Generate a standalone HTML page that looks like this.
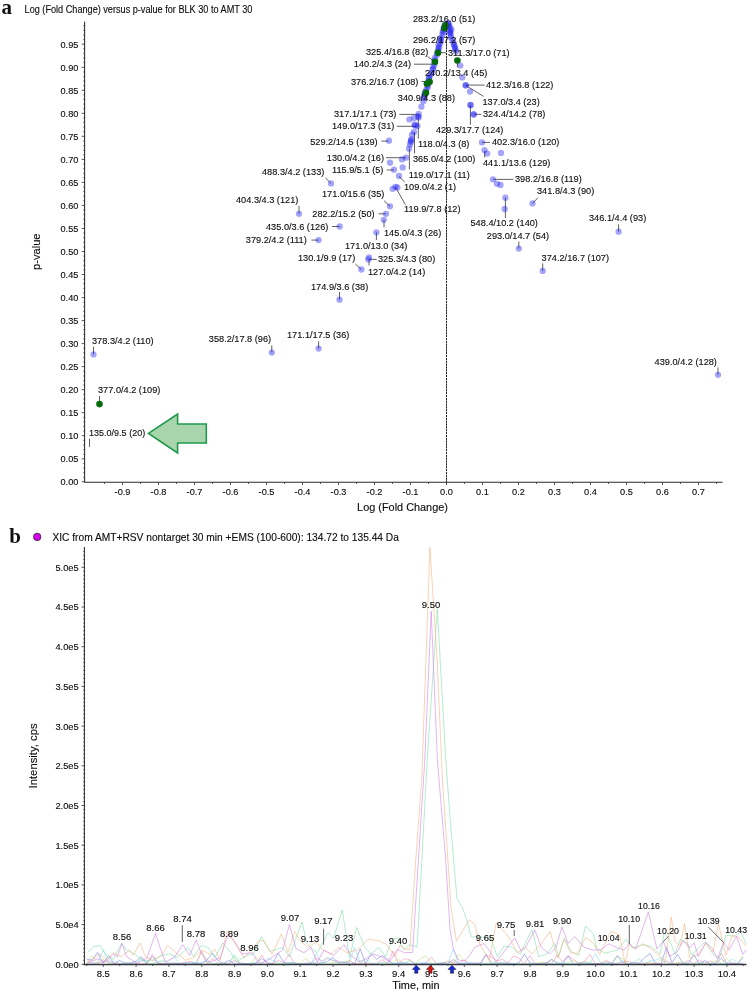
<!DOCTYPE html>
<html lang="en"><head><meta charset="utf-8"><title>Volcano plot and XIC</title>
<style>
html,body{margin:0;padding:0;background:#fff;}
body{width:749px;height:992px;overflow:hidden;font-family:"Liberation Sans",Arial,sans-serif;}
svg{display:block}
text{font-family:"Liberation Sans",Arial,sans-serif;fill:#0c0c0c;stroke:#0c0c0c;stroke-width:.12px}
.t{font-size:9.2px}
.tk{font-size:9.2px}
.b{font-size:9.5px}
.pl{font-family:"Liberation Serif","Times New Roman",serif;font-weight:bold;font-size:21px;fill:#111;stroke:none}
.ax{stroke:#2a2a2a;fill:none}
.ld{stroke:#505050;stroke-width:.9;fill:none}
.p{fill:#1616f0;fill-opacity:.39}
.g{fill:#056a0c}
</style></head><body>
<svg width="749" height="992" viewBox="0 0 749 992">
<rect width="749" height="992" fill="#fff"/>
<g id="volcano">
<text class="pl" x="1.5" y="13.7">a</text>
<text x="24.6" y="12.9" textLength="227.8" lengthAdjust="spacingAndGlyphs" style="font-size:10px">Log (Fold Change) versus p-value for BLK 30 to AMT 30</text>
<path class="ax" stroke-width="1.05" d="M84.6 21.7V482.3H722.5"/>
<text class="tk" x="78.4" y="485.1" text-anchor="end">0.00</text>
<text class="tk" x="78.4" y="462.1" text-anchor="end">0.05</text>
<text class="tk" x="78.4" y="439.0" text-anchor="end">0.10</text>
<text class="tk" x="78.4" y="416.0" text-anchor="end">0.15</text>
<text class="tk" x="78.4" y="393.0" text-anchor="end">0.20</text>
<text class="tk" x="78.4" y="369.9" text-anchor="end">0.25</text>
<text class="tk" x="78.4" y="346.9" text-anchor="end">0.30</text>
<text class="tk" x="78.4" y="323.9" text-anchor="end">0.35</text>
<text class="tk" x="78.4" y="300.9" text-anchor="end">0.40</text>
<text class="tk" x="78.4" y="277.8" text-anchor="end">0.45</text>
<text class="tk" x="78.4" y="254.8" text-anchor="end">0.50</text>
<text class="tk" x="78.4" y="231.8" text-anchor="end">0.55</text>
<text class="tk" x="78.4" y="208.7" text-anchor="end">0.60</text>
<text class="tk" x="78.4" y="185.7" text-anchor="end">0.65</text>
<text class="tk" x="78.4" y="162.7" text-anchor="end">0.70</text>
<text class="tk" x="78.4" y="139.6" text-anchor="end">0.75</text>
<text class="tk" x="78.4" y="116.6" text-anchor="end">0.80</text>
<text class="tk" x="78.4" y="93.6" text-anchor="end">0.85</text>
<text class="tk" x="78.4" y="70.6" text-anchor="end">0.90</text>
<text class="tk" x="78.4" y="47.5" text-anchor="end">0.95</text>
<path class="ax" stroke-width="0.8" d="M81.8 481.8H84.6M81.8 458.8H84.6M81.8 435.7H84.6M81.8 412.7H84.6M81.8 389.7H84.6M81.8 366.6H84.6M81.8 343.6H84.6M81.8 320.6H84.6M81.8 297.6H84.6M81.8 274.5H84.6M81.8 251.5H84.6M81.8 228.5H84.6M81.8 205.4H84.6M81.8 182.4H84.6M81.8 159.4H84.6M81.8 136.3H84.6M81.8 113.3H84.6M81.8 90.3H84.6M81.8 67.3H84.6M81.8 44.2H84.6M83.3 477.2H84.6M83.3 472.6H84.6M83.3 468.0H84.6M83.3 463.4H84.6M83.3 454.2H84.6M83.3 449.6H84.6M83.3 445.0H84.6M83.3 440.3H84.6M83.3 431.1H84.6M83.3 426.5H84.6M83.3 421.9H84.6M83.3 417.3H84.6M83.3 408.1H84.6M83.3 403.5H84.6M83.3 398.9H84.6M83.3 394.3H84.6M83.3 385.1H84.6M83.3 380.5H84.6M83.3 375.9H84.6M83.3 371.3H84.6M83.3 362.0H84.6M83.3 357.4H84.6M83.3 352.8H84.6M83.3 348.2H84.6M83.3 339.0H84.6M83.3 334.4H84.6M83.3 329.8H84.6M83.3 325.2H84.6M83.3 316.0H84.6M83.3 311.4H84.6M83.3 306.8H84.6M83.3 302.2H84.6M83.3 293.0H84.6M83.3 288.3H84.6M83.3 283.7H84.6M83.3 279.1H84.6M83.3 269.9H84.6M83.3 265.3H84.6M83.3 260.7H84.6M83.3 256.1H84.6M83.3 246.9H84.6M83.3 242.3H84.6M83.3 237.7H84.6M83.3 233.1H84.6M83.3 223.9H84.6M83.3 219.3H84.6M83.3 214.7H84.6M83.3 210.0H84.6M83.3 200.8H84.6M83.3 196.2H84.6M83.3 191.6H84.6M83.3 187.0H84.6M83.3 177.8H84.6M83.3 173.2H84.6M83.3 168.6H84.6M83.3 164.0H84.6M83.3 154.8H84.6M83.3 150.2H84.6M83.3 145.6H84.6M83.3 141.0H84.6M83.3 131.7H84.6M83.3 127.1H84.6M83.3 122.5H84.6M83.3 117.9H84.6M83.3 108.7H84.6M83.3 104.1H84.6M83.3 99.5H84.6M83.3 94.9H84.6M83.3 85.7H84.6M83.3 81.1H84.6M83.3 76.5H84.6M83.3 71.9H84.6M83.3 62.7H84.6M83.3 58.0H84.6M83.3 53.4H84.6M83.3 48.8H84.6M83.3 39.6H84.6M83.3 35.0H84.6M83.3 30.4H84.6M83.3 25.8H84.6"/>
<text class="tk" x="122.5" y="494.6" text-anchor="middle">-0.9</text>
<text class="tk" x="158.5" y="494.6" text-anchor="middle">-0.8</text>
<text class="tk" x="194.5" y="494.6" text-anchor="middle">-0.7</text>
<text class="tk" x="230.5" y="494.6" text-anchor="middle">-0.6</text>
<text class="tk" x="266.5" y="494.6" text-anchor="middle">-0.5</text>
<text class="tk" x="302.5" y="494.6" text-anchor="middle">-0.4</text>
<text class="tk" x="338.5" y="494.6" text-anchor="middle">-0.3</text>
<text class="tk" x="374.5" y="494.6" text-anchor="middle">-0.2</text>
<text class="tk" x="410.5" y="494.6" text-anchor="middle">-0.1</text>
<text class="tk" x="446.5" y="494.6" text-anchor="middle">0.0</text>
<text class="tk" x="482.5" y="494.6" text-anchor="middle">0.1</text>
<text class="tk" x="518.5" y="494.6" text-anchor="middle">0.2</text>
<text class="tk" x="554.5" y="494.6" text-anchor="middle">0.3</text>
<text class="tk" x="590.5" y="494.6" text-anchor="middle">0.4</text>
<text class="tk" x="626.5" y="494.6" text-anchor="middle">0.5</text>
<text class="tk" x="662.5" y="494.6" text-anchor="middle">0.6</text>
<text class="tk" x="698.5" y="494.6" text-anchor="middle">0.7</text>
<path class="ax" stroke-width="0.8" d="M122.5 482.3V485.0M158.5 482.3V485.0M194.5 482.3V485.0M230.5 482.3V485.0M266.5 482.3V485.0M302.5 482.3V485.0M338.5 482.3V485.0M374.5 482.3V485.0M410.5 482.3V485.0M446.5 482.3V485.0M482.5 482.3V485.0M518.5 482.3V485.0M554.5 482.3V485.0M590.5 482.3V485.0M626.5 482.3V485.0M662.5 482.3V485.0M698.5 482.3V485.0M104.5 482.3V484.0M140.5 482.3V484.0M176.5 482.3V484.0M212.5 482.3V484.0M248.5 482.3V484.0M284.5 482.3V484.0M320.5 482.3V484.0M356.5 482.3V484.0M392.5 482.3V484.0M428.5 482.3V484.0M464.5 482.3V484.0M500.5 482.3V484.0M536.5 482.3V484.0M572.5 482.3V484.0M608.5 482.3V484.0M644.5 482.3V484.0M680.5 482.3V484.0M716.5 482.3V484.0"/>
<text x="402.5" y="510.8" text-anchor="middle" style="font-size:10.9px">Log (Fold Change)</text>
<text transform="translate(40,251.7) rotate(-90)" text-anchor="middle" style="font-size:11.1px">p-value</text>
<path d="M446.5 21.7V481.8" stroke="#222" stroke-width="1" stroke-dasharray="1.9 0.95" fill="none"/>
<path class="ld" d="M399.4 114.4L418.7 114.4M396.7 126.3L416.7 126.3M418.3 116L418.3 138.7M414.5 132L414.5 153.4M409.4 148.7L409.4 169.4M381.4 141.1L388.7 141.1M386 157.7L406 157.7M386.7 170L394 170M399 176.4L404.7 182M395.4 187L405.4 204.7M384 200.7L390 206.3M378.5 213.8L386 213.8M384 219.8L384 227.4M376.4 232.3L376.4 240M369 259.4L376.7 259.4M369 259.4L369 265.4M355.4 264L361.4 269.5M325.4 177.8L331 183.4M299 206L299 213.8M332 226.5L339.7 226.5M311.4 240.1L318.7 240.1M457.4 60.7L457.4 67.3M465.6 85.1L484.7 85.1M465.6 85.4L483.4 96.3M470.4 105L470.4 124.8M473.8 114.3L481.4 114.3M482 142.4L490 142.4M484.7 150.8L484.7 157.5M532.5 203.4L538 197.7M493 179.4L513.4 179.4M505.4 197.7L505.4 218.1M618.6 224.3L618.6 231.7M518.8 241.6L518.8 248.6M542.7 263.4L542.7 270.9M718 367.4L718 374.8M93.5 346.7L93.5 354.4M99.5 396L99.5 404M89.5 438.5L89.5 446.9M339.5 292L339.5 299.7M271.8 345.4L271.8 352.6M318.6 341.3L318.6 348.6M445.3 22L445.3 30M438 52.7L446 52.7M427.5 56.5L435 61.8M414 64.2L433 64.2M429.6 78L429.6 86M421.5 81.5L428 81.5M426 92.8L426 100"/>
<circle class="p" cx="445.3" cy="23.7" r="3.15"/><circle class="p" cx="444.2" cy="26.3" r="3.15"/><circle class="p" cx="443.6" cy="28.1" r="3.15"/><circle class="p" cx="443.9" cy="29.1" r="3.15"/><circle class="p" cx="443.4" cy="31.2" r="3.15"/><circle class="p" cx="442.6" cy="32.5" r="3.15"/><circle class="p" cx="442.5" cy="35.0" r="3.15"/><circle class="p" cx="440.7" cy="38.2" r="3.15"/><circle class="p" cx="440.4" cy="39.2" r="3.15"/><circle class="p" cx="441.1" cy="41.1" r="3.15"/><circle class="p" cx="440.1" cy="43.4" r="3.15"/><circle class="p" cx="438.5" cy="45.2" r="3.15"/><circle class="p" cx="439.1" cy="47.2" r="3.15"/><circle class="p" cx="438.4" cy="49.0" r="3.15"/><circle class="p" cx="438.3" cy="51.0" r="3.15"/><circle class="p" cx="437.4" cy="52.5" r="3.15"/><circle class="p" cx="436.9" cy="54.9" r="3.15"/><circle class="p" cx="435.0" cy="57.8" r="3.15"/><circle class="p" cx="434.4" cy="60.3" r="3.15"/><circle class="p" cx="434.9" cy="61.9" r="3.15"/><circle class="p" cx="434.7" cy="63.6" r="3.15"/><circle class="p" cx="433.5" cy="66.2" r="3.15"/><circle class="p" cx="433.3" cy="68.6" r="3.15"/><circle class="p" cx="432.4" cy="69.7" r="3.15"/><circle class="p" cx="431.7" cy="73.0" r="3.15"/><circle class="p" cx="430.3" cy="74.9" r="3.15"/><circle class="p" cx="429.2" cy="77.3" r="3.15"/><circle class="p" cx="428.9" cy="78.5" r="3.15"/><circle class="p" cx="428.2" cy="81.1" r="3.15"/><circle class="p" cx="429.0" cy="82.8" r="3.15"/><circle class="p" cx="427.8" cy="85.6" r="3.15"/><circle class="p" cx="427.6" cy="87.5" r="3.15"/><circle class="p" cx="426.2" cy="90.0" r="3.15"/><circle class="p" cx="425.0" cy="92.1" r="3.15"/><circle class="p" cx="424.7" cy="94.0" r="3.15"/><circle class="p" cx="424.1" cy="95.7" r="3.15"/><circle class="p" cx="423.7" cy="98.2" r="3.15"/><circle class="p" cx="448.0" cy="24.0" r="3.15"/><circle class="p" cx="449.0" cy="25.5" r="3.15"/><circle class="p" cx="450.0" cy="27.4" r="3.15"/><circle class="p" cx="451.4" cy="29.4" r="3.15"/><circle class="p" cx="447.5" cy="26.0" r="3.15"/><circle class="p" cx="449.5" cy="30.5" r="3.15"/><circle class="p" cx="448.5" cy="23.0" r="3.15"/><circle class="p" cx="450.5" cy="32.0" r="3.15"/><circle class="p" cx="450.0" cy="33.0" r="3.15"/><circle class="p" cx="450.7" cy="35.1" r="3.15"/><circle class="p" cx="451.0" cy="37.4" r="3.15"/><circle class="p" cx="452.5" cy="40.0" r="3.15"/><circle class="p" cx="453.5" cy="42.6" r="3.15"/><circle class="p" cx="453.9" cy="44.5" r="3.15"/><circle class="p" cx="454.6" cy="46.2" r="3.15"/><circle class="p" cx="454.8" cy="47.7" r="3.15"/><circle class="p" cx="455.5" cy="49.5" r="3.15"/><circle class="p" cx="456.1" cy="51.4" r="3.15"/><circle class="p" cx="460.3" cy="65.6" r="3.15"/><circle class="p" cx="462.3" cy="77.4" r="3.15"/><circle class="p" cx="465.6" cy="85.4" r="3.15"/><circle class="p" cx="465.8" cy="85.2" r="3.15"/><circle class="p" cx="470.0" cy="91.6" r="3.15"/><circle class="p" cx="470.4" cy="105.0" r="3.15"/><circle class="p" cx="470.6" cy="105.2" r="3.15"/><circle class="p" cx="473.8" cy="114.3" r="3.15"/><circle class="p" cx="473.6" cy="114.5" r="3.15"/><circle class="p" cx="482.0" cy="142.4" r="3.15"/><circle class="p" cx="484.5" cy="150.1" r="3.15"/><circle class="p" cx="487.2" cy="153.6" r="3.15"/><circle class="p" cx="501.0" cy="152.9" r="3.15"/><circle class="p" cx="493.0" cy="179.4" r="3.15"/><circle class="p" cx="497.0" cy="183.8" r="3.15"/><circle class="p" cx="500.5" cy="185.0" r="3.15"/><circle class="p" cx="505.4" cy="197.7" r="3.15"/><circle class="p" cx="504.7" cy="209.0" r="3.15"/><circle class="p" cx="532.5" cy="203.4" r="3.15"/><circle class="p" cx="618.6" cy="231.7" r="3.15"/><circle class="p" cx="518.8" cy="248.6" r="3.15"/><circle class="p" cx="542.7" cy="270.9" r="3.15"/><circle class="p" cx="718.0" cy="374.8" r="3.15"/><circle class="p" cx="423.4" cy="101.3" r="3.15"/><circle class="p" cx="421.4" cy="106.7" r="3.15"/><circle class="p" cx="418.7" cy="114.0" r="3.15"/><circle class="p" cx="418.7" cy="117.4" r="3.15"/><circle class="p" cx="418.2" cy="116.5" r="3.15"/><circle class="p" cx="414.0" cy="118.0" r="3.15"/><circle class="p" cx="409.4" cy="119.4" r="3.15"/><circle class="p" cx="414.7" cy="124.7" r="3.15"/><circle class="p" cx="417.4" cy="126.0" r="3.15"/><circle class="p" cx="415.0" cy="125.5" r="3.15"/><circle class="p" cx="414.0" cy="132.0" r="3.15"/><circle class="p" cx="412.0" cy="134.7" r="3.15"/><circle class="p" cx="411.4" cy="139.4" r="3.15"/><circle class="p" cx="410.7" cy="142.0" r="3.15"/><circle class="p" cx="411.0" cy="140.5" r="3.15"/><circle class="p" cx="410.0" cy="144.7" r="3.15"/><circle class="p" cx="409.0" cy="148.7" r="3.15"/><circle class="p" cx="389.0" cy="140.7" r="3.15"/><circle class="p" cx="406.0" cy="157.7" r="3.15"/><circle class="p" cx="402.0" cy="159.4" r="3.15"/><circle class="p" cx="390.0" cy="162.7" r="3.15"/><circle class="p" cx="402.7" cy="167.4" r="3.15"/><circle class="p" cx="394.0" cy="169.7" r="3.15"/><circle class="p" cx="399.0" cy="176.0" r="3.15"/><circle class="p" cx="395.4" cy="186.8" r="3.15"/><circle class="p" cx="392.7" cy="188.8" r="3.15"/><circle class="p" cx="397.4" cy="187.4" r="3.15"/><circle class="p" cx="390.0" cy="206.3" r="3.15"/><circle class="p" cx="386.0" cy="213.8" r="3.15"/><circle class="p" cx="383.8" cy="219.8" r="3.15"/><circle class="p" cx="376.4" cy="232.3" r="3.15"/><circle class="p" cx="369.0" cy="257.4" r="3.15"/><circle class="p" cx="368.3" cy="259.4" r="3.15"/><circle class="p" cx="361.4" cy="269.5" r="3.15"/><circle class="p" cx="331.0" cy="183.4" r="3.15"/><circle class="p" cx="299.0" cy="213.8" r="3.15"/><circle class="p" cx="339.7" cy="226.5" r="3.15"/><circle class="p" cx="318.6" cy="240.1" r="3.15"/><circle class="p" cx="339.5" cy="299.7" r="3.15"/><circle class="p" cx="271.8" cy="352.6" r="3.15"/><circle class="p" cx="318.6" cy="348.6" r="3.15"/><circle class="p" cx="93.5" cy="354.4" r="3.15"/>
<circle class="g" cx="445.4" cy="25.4" r="3.3"/><circle class="g" cx="444.5" cy="28.2" r="3.3"/><circle class="g" cx="438.0" cy="52.7" r="3.3"/><circle class="g" cx="435.0" cy="61.8" r="3.3"/><circle class="g" cx="429.6" cy="81.7" r="3.3"/><circle class="g" cx="426.9" cy="83.8" r="3.3"/><circle class="g" cx="426.0" cy="92.8" r="3.3"/><circle class="g" cx="457.4" cy="60.5" r="3.3"/><circle class="g" cx="99.5" cy="404.1" r="3.3"/>
<path d="M446.5 21.7V481.8" stroke="#222" stroke-width="1" stroke-dasharray="1.9 0.95" fill="none"/>
<text class="t" x="413" y="22.3">283.2/16.0 (51)</text>
<text class="t" x="413" y="43.3">296.2/17.2 (57)</text>
<text class="t" x="366" y="55.3">325.4/16.8 (82)</text>
<text class="t" x="448" y="55.6">311.3/17.0 (71)</text>
<text class="t" x="353.8" y="67.3">140.2/4.3 (24)</text>
<text class="t" x="425" y="76.3">240.2/13.4 (45)</text>
<text class="t" x="351" y="84.9">376.2/16.7 (108)</text>
<text class="t" x="486" y="88.3">412.3/16.8 (122)</text>
<text class="t" x="397.8" y="101.3">340.9/4.3 (88)</text>
<text class="t" x="482.5" y="104.6">137.0/3.4 (23)</text>
<text class="t" x="334" y="117.3">317.1/17.1 (73)</text>
<text class="t" x="483" y="117.3">324.4/14.2 (78)</text>
<text class="t" x="332" y="129.3">149.0/17.3 (31)</text>
<text class="t" x="436" y="133.3">429.3/17.7 (124)</text>
<text class="t" x="310.2" y="144.5">529.2/14.5 (139)</text>
<text class="t" x="418" y="146.8">118.0/4.3 (8)</text>
<text class="t" x="492" y="145.3">402.3/16.0 (120)</text>
<text class="t" x="326.8" y="161.3">130.0/4.2 (16)</text>
<text class="t" x="413" y="161.8">365.0/4.2 (100)</text>
<text class="t" x="483" y="166.3">441.1/13.6 (129)</text>
<text class="t" x="262" y="175.3">488.3/4.2 (133)</text>
<text class="t" x="332" y="173.3">115.9/5.1 (5)</text>
<text class="t" x="408.8" y="178.3">119.0/17.1 (11)</text>
<text class="t" x="515" y="182.3">398.2/16.8 (119)</text>
<text class="t" x="404" y="190.3">109.0/4.2 (1)</text>
<text class="t" x="322" y="197.3">171.0/15.6 (35)</text>
<text class="t" x="537" y="194.3">341.8/4.3 (90)</text>
<text class="t" x="236" y="203.3">404.3/4.3 (121)</text>
<text class="t" x="404" y="212.3">119.9/7.8 (12)</text>
<text class="t" x="312.3" y="216.9">282.2/15.2 (50)</text>
<text class="t" x="589" y="221.3">346.1/4.4 (93)</text>
<text class="t" x="266" y="229.5">435.0/3.6 (126)</text>
<text class="t" x="470.5" y="226.3">548.4/10.2 (140)</text>
<text class="t" x="384" y="236.3">145.0/4.3 (26)</text>
<text class="t" x="486.8" y="239.3">293.0/14.7 (54)</text>
<text class="t" x="245.8" y="243.3">379.2/4.2 (111)</text>
<text class="t" x="345" y="249.3">171.0/13.0 (34)</text>
<text class="t" x="298" y="261.3">130.1/9.9 (17)</text>
<text class="t" x="378" y="262.3">325.3/4.3 (80)</text>
<text class="t" x="541.6" y="261.3">374.2/16.7 (107)</text>
<text class="t" x="368" y="274.5">127.0/4.2 (14)</text>
<text class="t" x="311" y="290.3">174.9/3.6 (38)</text>
<text class="t" x="92" y="344.3">378.3/4.2 (110)</text>
<text class="t" x="208.8" y="342.3">358.2/17.8 (96)</text>
<text class="t" x="287" y="338.3">171.1/17.5 (36)</text>
<text class="t" x="654.6" y="365.3">439.0/4.2 (128)</text>
<text class="t" x="98" y="393.3">377.0/4.2 (109)</text>
<text class="t" x="89" y="436.3" textLength="56.2" lengthAdjust="spacingAndGlyphs">135.0/9.5 (20)</text>
<path d="M148.5 433.4L177.6 414V424H206.3V443H177.6V453Z" fill="#a9d5ad" stroke="#1f9a4c" stroke-width="1.6" stroke-linejoin="miter"/>
</g>
<g id="xic">
<text class="pl" x="9.2" y="542.9">b</text>
<circle cx="37.2" cy="536.9" r="3.7" fill="#d800f0" stroke="#3a2a3a" stroke-width="0.9"/>
<text x="52.4" y="541.2" textLength="346.5" lengthAdjust="spacingAndGlyphs" style="font-size:10.1px">XIC from AMT+RSV nontarget 30 min +EMS (100-600): 134.72 to 135.44 Da</text>
<path d="M86.7 963.2L92.2 955.9L97.6 963.4L103.1 959.3L108.6 963.5L114.0 963.9L119.5 963.7L125.0 963.1L130.5 963.6L135.9 963.8L141.4 958.6L146.9 963.1L152.3 963.2L157.8 963.5L163.3 959.7L168.8 963.4L174.2 963.1L179.7 963.9L185.2 963.3L190.6 963.2L196.1 963.3L201.6 951.4L207.0 962.6L212.5 963.4L218.0 963.6L223.4 963.2L228.9 963.3L234.4 956.2L239.9 963.5L245.3 963.4L250.8 963.9L256.3 956.9L261.7 963.9L267.2 963.8L272.7 963.8L278.2 963.4L283.6 963.6L289.1 963.5L294.6 962.5L300.0 963.5L305.5 958.3L311.0 963.4L316.4 963.9L321.9 964.0L327.4 963.8L332.9 962.4L338.3 963.2L343.8 962.4L349.3 960.3L354.7 964.1L360.2 960.5L365.7 963.1L371.1 964.1L376.6 964.1L382.1 962.3L387.6 963.9L393.0 962.3L398.5 959.5L404.0 963.9L409.4 960.2L414.9 964.0L420.4 958.4L425.8 956.0L431.3 963.2L436.8 963.2L442.3 963.6L447.7 961.4L453.2 963.8L458.7 954.5L464.1 960.8L469.6 963.7L475.1 964.0L480.5 963.8L486.0 963.7L491.5 961.5L497.0 963.1L502.4 962.9L507.9 963.6L513.4 963.2L518.8 963.9L524.3 963.8L529.8 963.5L535.2 963.4L540.7 962.2L546.2 963.6L551.7 959.1L557.1 963.0L562.6 963.9L568.1 962.6L573.5 960.8L579.0 963.6L584.5 961.9L589.9 963.1L595.4 963.7L600.9 963.5L606.4 961.4L611.8 963.6L617.3 956.6L622.8 959.1L628.2 963.2L633.7 963.8L639.2 963.7L644.6 963.2L650.1 962.0L655.6 963.4L661.1 959.2L666.5 963.9L672.0 964.0L677.5 962.6L682.9 962.3L688.4 963.9L693.9 963.7L699.3 963.3L704.8 964.0L710.3 963.3L715.8 959.9L721.2 963.4L726.7 958.3L732.2 963.3L737.6 963.6L743.1 955.5" fill="none" stroke="#b9e66e" stroke-width="0.55" stroke-linejoin="round"/>
<path d="M86.7 959.5L92.2 963.5L97.6 962.8L103.1 962.1L108.6 960.8L114.0 963.6L119.5 963.6L125.0 963.9L130.5 963.2L135.9 963.4L141.4 964.0L146.9 963.5L152.3 954.3L157.8 963.4L163.3 963.4L168.8 963.7L174.2 963.7L179.7 963.2L185.2 962.2L190.6 961.4L196.1 963.5L201.6 951.4L207.0 963.7L212.5 958.4L218.0 963.4L223.4 963.2L228.9 963.4L234.4 960.7L239.9 963.1L245.3 963.5L250.8 963.9L256.3 963.5L261.7 955.1L267.2 964.0L272.7 963.7L278.2 960.3L283.6 962.9L289.1 954.0L294.6 964.1L300.0 963.8L305.5 963.1L311.0 963.1L316.4 958.1L321.9 961.0L327.4 958.4L332.9 960.3L338.3 961.2L343.8 963.2L349.3 960.9L354.7 963.6L360.2 963.5L365.7 963.5L371.1 963.6L376.6 963.4L382.1 959.7L387.6 963.6L393.0 951.0L398.5 963.5L404.0 958.8L409.4 959.4L414.9 963.6L420.4 963.7L425.8 963.4L431.3 957.1L436.8 963.8L442.3 963.5L447.7 961.3L453.2 962.3L458.7 963.8L464.1 959.7L469.6 964.1L475.1 963.4L480.5 962.6L486.0 955.2L491.5 957.0L497.0 961.0L502.4 959.3L507.9 963.2L513.4 955.9L518.8 958.0L524.3 963.9L529.8 955.7L535.2 963.9L540.7 963.3L546.2 962.5L551.7 963.3L557.1 955.2L562.6 961.8L568.1 955.5L573.5 959.6L579.0 963.2L584.5 961.5L589.9 954.5L595.4 963.7L600.9 963.2L606.4 960.5L611.8 963.3L617.3 963.6L622.8 962.2L628.2 961.1L633.7 963.8L639.2 964.1L644.6 963.4L650.1 963.2L655.6 963.5L661.1 964.0L666.5 961.0L672.0 963.6L677.5 963.2L682.9 963.8L688.4 960.4L693.9 963.7L699.3 959.8L704.8 963.3L710.3 961.2L715.8 963.3L721.2 953.2L726.7 963.2L732.2 963.6L737.6 963.7L743.1 963.3" fill="none" stroke="#f285ac" stroke-width="0.55" stroke-linejoin="round"/>
<path d="M86.7 958.9L92.2 960.2L97.6 952.3L103.1 963.1L108.6 955.7L114.0 963.7L119.5 960.6L125.0 963.0L130.5 963.1L135.9 961.3L141.4 956.7L146.9 963.0L152.3 956.6L157.8 963.2L163.3 963.9L168.8 964.0L174.2 963.0L179.7 963.7L185.2 963.4L190.6 963.0L196.1 963.6L201.6 963.5L207.0 960.1L212.5 952.9L218.0 960.4L223.4 963.5L228.9 960.3L234.4 963.8L239.9 963.8L245.3 963.7L250.8 964.0L256.3 962.9L261.7 958.4L267.2 962.6L272.7 963.8L278.2 953.1L283.6 962.2L289.1 962.9L294.6 963.1L300.0 964.1L305.5 963.6L311.0 963.1L316.4 962.9L321.9 963.0L327.4 961.6L332.9 957.5L338.3 962.8L343.8 962.1L349.3 964.0L354.7 963.6L360.2 949.0L365.7 963.8L371.1 953.6L376.6 959.3L382.1 955.6L387.6 959.2L393.0 963.9L398.5 963.1L404.0 962.8L409.4 963.8L414.9 964.1L420.4 963.8L425.8 963.0L431.3 964.1L436.8 963.8L442.3 962.9L447.7 963.9L453.2 959.5L458.7 963.4L464.1 963.6L469.6 963.2L475.1 963.1L480.5 964.0L486.0 954.3L491.5 963.7L497.0 963.1L502.4 963.0L507.9 963.2L513.4 963.8L518.8 962.9L524.3 954.2L529.8 962.8L535.2 964.0L540.7 963.9L546.2 963.2L551.7 959.5L557.1 963.1L562.6 963.8L568.1 956.1L573.5 964.1L579.0 963.9L584.5 963.1L589.9 963.4L595.4 963.8L600.9 963.7L606.4 963.1L611.8 963.4L617.3 955.6L622.8 963.0L628.2 963.9L633.7 962.2L639.2 963.4L644.6 957.7L650.1 953.7L655.6 963.6L661.1 963.7L666.5 947.2L672.0 962.7L677.5 954.3L682.9 963.5L688.4 963.1L693.9 954.8L699.3 963.8L704.8 960.6L710.3 963.9L715.8 963.9L721.2 958.3L726.7 963.7L732.2 962.9L737.6 964.1L743.1 956.9" fill="none" stroke="#6c7be6" stroke-width="0.55" stroke-linejoin="round"/>
<path d="M86.7 963.2L92.2 963.0L97.6 963.0L103.1 950.1L108.6 963.0L114.0 961.0L119.5 963.8L125.0 963.4L130.5 963.1L135.9 963.2L141.4 959.3L146.9 963.9L152.3 963.9L157.8 961.3L163.3 961.1L168.8 963.1L174.2 956.8L179.7 963.9L185.2 963.3L190.6 963.0L196.1 962.3L201.6 962.4L207.0 961.2L212.5 963.7L218.0 963.7L223.4 963.8L228.9 963.5L234.4 954.8L239.9 963.0L245.3 964.1L250.8 963.1L256.3 962.8L261.7 964.1L267.2 958.5L272.7 960.3L278.2 963.0L283.6 963.7L289.1 963.0L294.6 963.2L300.0 964.0L305.5 964.1L311.0 964.0L316.4 953.4L321.9 963.0L327.4 957.4L332.9 960.6L338.3 963.0L343.8 961.9L349.3 962.9L354.7 947.3L360.2 963.6L365.7 958.8L371.1 963.1L376.6 963.6L382.1 962.8L387.6 963.1L393.0 963.3L398.5 963.0L404.0 963.2L409.4 961.0L414.9 963.7L420.4 962.9L425.8 962.9L431.3 963.5L436.8 963.5L442.3 962.7L447.7 963.9L453.2 948.9L458.7 963.5L464.1 963.0L469.6 962.6L475.1 963.7L480.5 963.2L486.0 963.3L491.5 963.7L497.0 963.8L502.4 963.2L507.9 963.7L513.4 963.3L518.8 964.1L524.3 963.8L529.8 963.5L535.2 963.3L540.7 963.7L546.2 963.2L551.7 963.7L557.1 963.1L562.6 962.9L568.1 963.5L573.5 963.9L579.0 963.0L584.5 963.3L589.9 963.2L595.4 953.7L600.9 963.4L606.4 963.6L611.8 963.2L617.3 963.2L622.8 960.6L628.2 963.8L633.7 963.3L639.2 958.6L644.6 963.8L650.1 960.6L655.6 960.2L661.1 957.6L666.5 963.4L672.0 963.8L677.5 964.1L682.9 963.8L688.4 964.0L693.9 963.7L699.3 962.6L704.8 964.0L710.3 963.7L715.8 963.0L721.2 963.6L726.7 963.3L732.2 959.0L737.6 963.0L743.1 963.4" fill="none" stroke="#7fd6ee" stroke-width="0.55" stroke-linejoin="round"/>
<path d="M88.0 952.0L93.4 946.9L100.0 945.5L106.7 955.4L113.4 959.4L121.4 943.4L126.8 950.0L134.8 954.0L142.8 960.8L153.5 960.0L161.5 955.4L169.5 954.0L177.5 957.3L188.2 947.4L193.5 956.8L201.5 945.5L208.2 947.4L214.9 958.0L222.9 942.9L231.0 952.7L236.2 962.0L246.9 955.4L253.4 954.0L261.4 936.7L269.4 951.4L282.7 947.4L289.4 956.8L294.7 942.0L302.0 922.0L306.8 943.4L313.4 950.0L317.4 952.7L328.1 932.7L333.5 938.0L342.3 910.0L349.5 958.0L356.7 927.4L364.2 946.0L370.8 954.0L378.9 947.4L385.5 956.8L392.2 939.4L397.5 938.0L404.2 950.0L409.6 944.7L417.0 947.0L420.4 887.0L427.2 760.0L437.3 608.8L445.8 760.0L450.5 823.5L457.0 898.7L462.7 908.2L467.0 920.9L471.2 936.8L480.0 937.0L490.7 938.0L497.4 956.8L504.0 946.0L512.0 947.4L520.0 954.0L532.0 929.5L538.8 956.8L546.8 954.0L554.8 943.4L558.8 956.8L564.2 938.0L570.8 951.4L578.8 955.4L585.5 926.0L593.5 934.0L596.4 948.0L604.9 953.2L617.6 950.0L626.0 939.4L632.5 948.0L643.0 944.7L651.6 946.9L660.0 954.3L664.3 933.0L668.5 937.3L674.9 954.3L680.2 939.4L687.6 943.7L691.9 955.4L698.3 948.0L705.7 941.6L713.0 954.3L719.5 958.5L725.9 935.2L734.3 936.3L740.7 932.0L746.0 943.7" fill="none" stroke="#79dca6" stroke-width="0.56" stroke-linejoin="round"/>
<path d="M86.7 963.4L100.0 954.0L106.7 960.0L113.4 952.7L121.4 956.8L129.4 950.0L133.4 955.4L140.0 942.9L145.4 956.8L153.5 960.8L161.5 955.4L167.6 945.5L177.5 954.0L185.5 960.0L193.5 958.0L201.5 950.0L209.5 954.0L214.9 949.3L220.2 960.0L226.9 931.4L236.2 943.4L244.2 958.0L252.2 948.7L259.0 940.7L264.0 940.7L272.0 954.0L281.4 934.0L288.0 952.7L294.7 931.4L301.4 942.0L308.0 947.4L316.0 942.0L322.8 950.0L330.8 954.0L338.8 947.4L346.8 952.7L357.5 950.0L368.2 939.4L378.9 940.7L386.9 944.7L394.9 956.8L400.2 945.0L404.0 949.0L409.8 949.5L415.3 866.0L421.8 778.0L429.9 547.4L437.1 660.0L442.5 781.0L446.9 845.0L451.1 908.0L456.4 941.0L469.4 920.0L474.7 924.0L480.0 944.7L489.4 960.8L496.0 923.4L506.8 934.0L517.4 952.7L525.4 947.4L532.0 954.0L541.5 943.4L550.0 931.4L557.5 958.0L564.2 939.4L570.8 952.7L577.5 953.5L585.5 937.5L593.5 943.4L599.6 954.3L611.2 931.0L619.7 935.2L625.0 963.8L629.3 943.7L635.6 949.0L643.0 943.7L651.6 949.0L660.0 956.4L665.4 960.7L671.3 917.1L675.0 941.6L680.2 945.8L684.5 923.5L689.8 958.5L698.3 954.3L705.7 943.7L713.0 952.2L718.4 923.5L725.9 955.4L732.2 935.2L738.6 937.3L746.0 946.0" fill="none" stroke="#f2b07c" stroke-width="0.56" stroke-linejoin="round"/>
<path d="M86.7 963.4L97.4 958.9L105.4 962.0L113.4 954.0L117.4 956.8L122.0 943.4L126.8 956.8L137.4 963.4L146.8 958.0L155.6 933.5L160.0 947.4L165.5 962.0L174.8 956.8L182.8 944.7L189.5 955.4L196.2 940.0L201.5 954.0L209.5 962.0L220.2 958.0L228.2 934.0L233.6 940.7L241.6 954.0L252.2 952.7L258.7 963.4L266.7 960.8L282.7 950.0L289.4 924.7L296.0 948.7L304.0 952.7L310.8 947.4L317.4 962.0L324.0 950.0L333.5 955.4L344.0 944.7L350.8 955.4L360.0 962.0L373.5 954.0L381.5 956.8L389.5 962.0L397.5 949.3L404.2 952.7L412.6 952.5L418.3 861.6L424.8 760.0L431.2 611.4L437.4 760.0L445.8 861.6L450.0 929.3L453.2 948.4L458.5 960.0L464.9 961.0L470.1 954.7L474.7 947.4L484.0 943.4L490.7 952.7L496.0 962.0L505.4 950.0L514.8 938.0L521.4 951.4L525.4 947.4L534.8 930.0L541.5 947.4L549.5 954.0L556.0 947.4L562.0 926.8L568.0 943.4L574.8 936.7L584.2 947.4L592.2 950.0L600.6 950.0L609.0 943.7L617.6 948.0L624.0 950.0L629.3 943.7L635.6 949.0L648.4 911.8L656.9 949.0L663.2 941.6L669.6 956.4L677.0 952.0L683.4 940.5L689.8 948.0L694.0 942.6L698.3 956.4L705.7 942.6L712.0 948.0L717.4 958.5L723.7 942.6L729.0 950.0L736.5 936.3L742.8 954.3L746.0 950.0" fill="none" stroke="#cf7ae4" stroke-width="0.56" stroke-linejoin="round"/>
<path class="ax" stroke-width="1.05" d="M84.4 547V965.1999999999999"/>
<path stroke="#33373d" stroke-width="1.45" fill="none" d="M83.80000000000001 964.5H746.5"/>
<text class="b" style="font-size:9.3px" x="78.7" y="967.7" text-anchor="end">0.0e0</text>
<text class="b" style="font-size:9.3px" x="78.7" y="928.0" text-anchor="end">5.0e4</text>
<text class="b" style="font-size:9.3px" x="78.7" y="888.3" text-anchor="end">1.0e5</text>
<text class="b" style="font-size:9.3px" x="78.7" y="848.6" text-anchor="end">1.5e5</text>
<text class="b" style="font-size:9.3px" x="78.7" y="808.9" text-anchor="end">2.0e5</text>
<text class="b" style="font-size:9.3px" x="78.7" y="769.2" text-anchor="end">2.5e5</text>
<text class="b" style="font-size:9.3px" x="78.7" y="729.5" text-anchor="end">3.0e5</text>
<text class="b" style="font-size:9.3px" x="78.7" y="689.8" text-anchor="end">3.5e5</text>
<text class="b" style="font-size:9.3px" x="78.7" y="650.1" text-anchor="end">4.0e5</text>
<text class="b" style="font-size:9.3px" x="78.7" y="610.4" text-anchor="end">4.5e5</text>
<text class="b" style="font-size:9.3px" x="78.7" y="570.7" text-anchor="end">5.0e5</text>
<path class="ax" stroke-width="0.8" d="M81.60000000000001 964.3H84.4M81.60000000000001 924.6H84.4M81.60000000000001 884.9H84.4M81.60000000000001 845.2H84.4M81.60000000000001 805.5H84.4M81.60000000000001 765.8H84.4M81.60000000000001 726.1H84.4M81.60000000000001 686.4H84.4M81.60000000000001 646.7H84.4M81.60000000000001 607.0H84.4M81.60000000000001 567.3H84.4M83.30000000000001 960.3H84.4M83.30000000000001 956.4H84.4M83.30000000000001 952.4H84.4M83.30000000000001 948.4H84.4M83.30000000000001 944.4H84.4M83.30000000000001 940.5H84.4M83.30000000000001 936.5H84.4M83.30000000000001 932.5H84.4M83.30000000000001 928.6H84.4M83.30000000000001 920.6H84.4M83.30000000000001 916.7H84.4M83.30000000000001 912.7H84.4M83.30000000000001 908.7H84.4M83.30000000000001 904.8H84.4M83.30000000000001 900.8H84.4M83.30000000000001 896.8H84.4M83.30000000000001 892.8H84.4M83.30000000000001 888.9H84.4M83.30000000000001 880.9H84.4M83.30000000000001 877.0H84.4M83.30000000000001 873.0H84.4M83.30000000000001 869.0H84.4M83.30000000000001 865.0H84.4M83.30000000000001 861.1H84.4M83.30000000000001 857.1H84.4M83.30000000000001 853.1H84.4M83.30000000000001 849.2H84.4M83.30000000000001 841.2H84.4M83.30000000000001 837.3H84.4M83.30000000000001 833.3H84.4M83.30000000000001 829.3H84.4M83.30000000000001 825.3H84.4M83.30000000000001 821.4H84.4M83.30000000000001 817.4H84.4M83.30000000000001 813.4H84.4M83.30000000000001 809.5H84.4M83.30000000000001 801.5H84.4M83.30000000000001 797.6H84.4M83.30000000000001 793.6H84.4M83.30000000000001 789.6H84.4M83.30000000000001 785.6H84.4M83.30000000000001 781.7H84.4M83.30000000000001 777.7H84.4M83.30000000000001 773.7H84.4M83.30000000000001 769.8H84.4M83.30000000000001 761.8H84.4M83.30000000000001 757.9H84.4M83.30000000000001 753.9H84.4M83.30000000000001 749.9H84.4M83.30000000000001 745.9H84.4M83.30000000000001 742.0H84.4M83.30000000000001 738.0H84.4M83.30000000000001 734.0H84.4M83.30000000000001 730.1H84.4M83.30000000000001 722.1H84.4M83.30000000000001 718.2H84.4M83.30000000000001 714.2H84.4M83.30000000000001 710.2H84.4M83.30000000000001 706.2H84.4M83.30000000000001 702.3H84.4M83.30000000000001 698.3H84.4M83.30000000000001 694.3H84.4M83.30000000000001 690.4H84.4M83.30000000000001 682.4H84.4M83.30000000000001 678.5H84.4M83.30000000000001 674.5H84.4M83.30000000000001 670.5H84.4M83.30000000000001 666.5H84.4M83.30000000000001 662.6H84.4M83.30000000000001 658.6H84.4M83.30000000000001 654.6H84.4M83.30000000000001 650.7H84.4M83.30000000000001 642.7H84.4M83.30000000000001 638.8H84.4M83.30000000000001 634.8H84.4M83.30000000000001 630.8H84.4M83.30000000000001 626.8H84.4M83.30000000000001 622.9H84.4M83.30000000000001 618.9H84.4M83.30000000000001 614.9H84.4M83.30000000000001 611.0H84.4M83.30000000000001 603.0H84.4M83.30000000000001 599.1H84.4M83.30000000000001 595.1H84.4M83.30000000000001 591.1H84.4M83.30000000000001 587.1H84.4M83.30000000000001 583.2H84.4M83.30000000000001 579.2H84.4M83.30000000000001 575.2H84.4M83.30000000000001 571.3H84.4M83.30000000000001 563.3H84.4M83.30000000000001 559.4H84.4M83.30000000000001 555.4H84.4M83.30000000000001 551.4H84.4M86.9 965.0999999999999V966.0M103.3 965.0999999999999V966.9M119.7 965.0999999999999V966.0M136.1 965.0999999999999V966.9M152.5 965.0999999999999V966.0M168.9 965.0999999999999V966.9M185.3 965.0999999999999V966.0M201.8 965.0999999999999V966.9M218.2 965.0999999999999V966.0M234.6 965.0999999999999V966.9M251.0 965.0999999999999V966.0M267.4 965.0999999999999V966.9M283.8 965.0999999999999V966.0M300.2 965.0999999999999V966.9M316.6 965.0999999999999V966.0M333.0 965.0999999999999V966.9M349.5 965.0999999999999V966.0M365.9 965.0999999999999V966.9M382.3 965.0999999999999V966.0M398.7 965.0999999999999V966.9M415.1 965.0999999999999V966.0M431.5 965.0999999999999V966.9M447.9 965.0999999999999V966.0M464.3 965.0999999999999V966.9M480.7 965.0999999999999V966.0M497.1 965.0999999999999V966.9M513.6 965.0999999999999V966.0M530.0 965.0999999999999V966.9M546.4 965.0999999999999V966.0M562.8 965.0999999999999V966.9M579.2 965.0999999999999V966.0M595.6 965.0999999999999V966.9M612.0 965.0999999999999V966.0M628.4 965.0999999999999V966.9M644.8 965.0999999999999V966.0M661.2 965.0999999999999V966.9M677.6 965.0999999999999V966.0M694.1 965.0999999999999V966.9M710.5 965.0999999999999V966.0M726.9 965.0999999999999V966.9M743.3 965.0999999999999V966.0"/>
<text class="b" x="103.3" y="976.7" text-anchor="middle">8.5</text>
<text class="b" x="136.1" y="976.7" text-anchor="middle">8.6</text>
<text class="b" x="168.9" y="976.7" text-anchor="middle">8.7</text>
<text class="b" x="201.8" y="976.7" text-anchor="middle">8.8</text>
<text class="b" x="234.6" y="976.7" text-anchor="middle">8.9</text>
<text class="b" x="267.4" y="976.7" text-anchor="middle">9.0</text>
<text class="b" x="300.2" y="976.7" text-anchor="middle">9.1</text>
<text class="b" x="333.0" y="976.7" text-anchor="middle">9.2</text>
<text class="b" x="365.9" y="976.7" text-anchor="middle">9.3</text>
<text class="b" x="398.7" y="976.7" text-anchor="middle">9.4</text>
<text class="b" x="431.5" y="976.7" text-anchor="middle">9.5</text>
<text class="b" x="464.3" y="976.7" text-anchor="middle">9.6</text>
<text class="b" x="497.1" y="976.7" text-anchor="middle">9.7</text>
<text class="b" x="530.0" y="976.7" text-anchor="middle">9.8</text>
<text class="b" x="562.8" y="976.7" text-anchor="middle">9.9</text>
<text class="b" x="595.6" y="976.7" text-anchor="middle">10.0</text>
<text class="b" x="628.4" y="976.7" text-anchor="middle">10.1</text>
<text class="b" x="661.2" y="976.7" text-anchor="middle">10.2</text>
<text class="b" x="694.1" y="976.7" text-anchor="middle">10.3</text>
<text class="b" x="726.9" y="976.7" text-anchor="middle">10.4</text>
<text x="415.9" y="988.7" text-anchor="middle" style="font-size:10.9px">Time, min</text>
<text transform="translate(36.9,755.9) rotate(-90)" text-anchor="middle" style="font-size:11.3px">Intensity, cps</text>
<text class="b" x="122" y="939.7" text-anchor="middle">8.56</text>
<text class="b" x="155.5" y="930.7" text-anchor="middle">8.66</text>
<text class="b" x="182.5" y="921.7" text-anchor="middle">8.74</text>
<text class="b" x="196" y="936.7" text-anchor="middle">8.78</text>
<text class="b" x="229.2" y="936.7" text-anchor="middle">8.89</text>
<text class="b" x="249.5" y="950.7" text-anchor="middle">8.96</text>
<text class="b" x="290" y="920.7" text-anchor="middle">9.07</text>
<text class="b" x="310" y="941.7" text-anchor="middle">9.13</text>
<text class="b" x="323.4" y="924.3" text-anchor="middle">9.17</text>
<text class="b" x="344" y="940.7" text-anchor="middle">9.23</text>
<text class="b" x="398" y="943.7" text-anchor="middle">9.40</text>
<text class="b" x="431" y="607.7" text-anchor="middle">9.50</text>
<text class="b" x="485" y="940.7" text-anchor="middle">9.65</text>
<text class="b" x="506" y="927.7" text-anchor="middle">9.75</text>
<text class="b" x="535" y="926.7" text-anchor="middle">9.81</text>
<text class="b" x="562" y="923.7" text-anchor="middle">9.90</text>
<text class="b" x="608.6" y="940.6" text-anchor="middle" textLength="21.9" lengthAdjust="spacingAndGlyphs">10.04</text>
<text class="b" x="629.1" y="922.1" text-anchor="middle" textLength="21.9" lengthAdjust="spacingAndGlyphs">10.10</text>
<text class="b" x="649" y="909.2" text-anchor="middle" textLength="21.9" lengthAdjust="spacingAndGlyphs">10.16</text>
<text class="b" x="668" y="934.2" text-anchor="middle" textLength="21.9" lengthAdjust="spacingAndGlyphs">10.20</text>
<text class="b" x="695.7" y="938.9" text-anchor="middle" textLength="21.9" lengthAdjust="spacingAndGlyphs">10.31</text>
<text class="b" x="708.7" y="923.6" text-anchor="middle" textLength="21.9" lengthAdjust="spacingAndGlyphs">10.39</text>
<text class="b" x="736.1" y="933.2" text-anchor="middle" textLength="21.9" lengthAdjust="spacingAndGlyphs">10.43</text>
<path class="ld" d="M182.3 925.2L182.3 942M323.6 928.7L323.6 944.7M514.2 930L514.2 936M629.3 925L629.3 944M663.2 941.6L668.5 936.3M708.4 927.1L723.7 942.6"/>
<path d="M416.3 965.2l4 4.2h-2.4v3.8h-3.2v-3.8h-2.4z" fill="#1428e0" stroke="#111" stroke-width="0.5"/>
<path d="M430.4 965.2l4 4.2h-2.4v3.8h-3.2v-3.8h-2.4z" fill="#e01414" stroke="#111" stroke-width="0.5"/>
<path d="M452 965.2l4 4.2h-2.4v3.8h-3.2v-3.8h-2.4z" fill="#1428e0" stroke="#111" stroke-width="0.5"/>
</g>
</svg>
</body></html>
